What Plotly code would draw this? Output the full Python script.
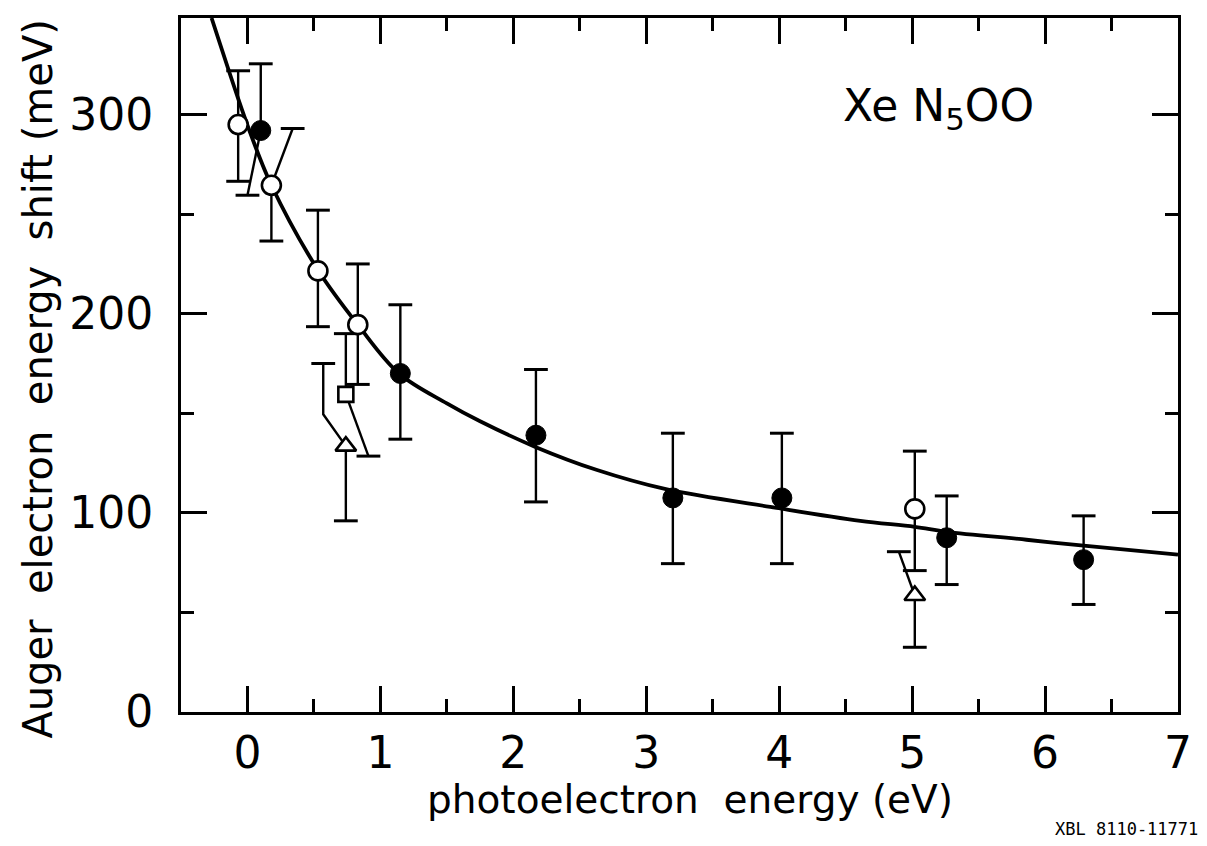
import plotly.graph_objects as go

# === 1. Data ===
# smooth curve through the data (photoelectron energy eV, shift meV)
curve_x = [-0.27, -0.08, 0.02, 0.18, 0.53, 0.83, 1.14, 1.50, 1.75, 2.17, 2.63,
           3.14, 3.98, 4.61, 5.02, 5.26, 5.86, 6.29, 7.00]
curve_y = [348.5, 310, 291, 264.5, 222, 194.5, 170, 155, 146, 133, 121.5,
           112, 102.5, 96, 93, 90.5, 86.5, 83.5, 79]

# open circles
open_x = [-0.07, 0.18, 0.53, 0.83, 5.02]
open_y = [295, 264.5, 221.5, 194.5, 102]
open_hi = [322, 293, 252, 225, 131]
open_lo = [266.5, 236.5, 193.5, 164.5, 71]
open_hi_cap_x = [-0.07, 0.34, 0.53, 0.83, 5.02]
open_lo_cap_x = [-0.07, 0.18, 0.53, 0.83, 5.02]

# filled circles
filled_x = [0.10, 1.15, 2.17, 3.20, 4.02, 5.26, 6.29]
filled_y = [292, 170, 139, 107.5, 107.5, 87.5, 76.5]
filled_hi = [325.5, 204.5, 172, 140, 140, 108.5, 98.5]
filled_lo = [259.5, 137, 105.5, 74.5, 74.5, 64, 54]
filled_hi_cap_x = [0.10, 1.15, 2.17, 3.20, 4.02, 5.26, 6.29]
filled_lo_cap_x = [0.00, 1.15, 2.17, 3.20, 4.02, 5.26, 6.29]

# open square
square_x = [0.74]
square_y = [159.5]
square_hi = [190]
square_lo = [128.5]
square_hi_cap_x = [0.74]
square_lo_cap_x = [0.91]

# open triangles (first upper bar is drawn with a bend)
tri_x = [0.74, 5.02]
tri_y = [133.5, 58.5]
tri_hi = [175, 80.5]
tri_lo = [96, 32.5]
tri_hi_cap_x = [0.57, 4.90]
tri_lo_cap_x = [0.74, 5.02]
tri_hi_knee_y = [149.5, None]


# === 2. Helpers for the hand-drafted (partly displaced) error bars ===
def bar_paths(x, y, hi, lo, hi_cx, lo_cx, knee=None):
    xs, ys, cx, cy = [], [], [], []
    for i in range(len(x)):
        # upper bar
        if knee is not None and knee[i] is not None:
            xs += [x[i], hi_cx[i], hi_cx[i], None]
            ys += [y[i], knee[i], hi[i], None]
        else:
            xs += [x[i], hi_cx[i], None]
            ys += [y[i], hi[i], None]
        # lower bar
        xs += [x[i], lo_cx[i], None]
        ys += [y[i], lo[i], None]
        cx += [hi_cx[i], lo_cx[i]]
        cy += [hi[i], lo[i]]
    return xs, ys, cx, cy


series = [
    (open_x, open_y, open_hi, open_lo, open_hi_cap_x, open_lo_cap_x, None),
    (filled_x, filled_y, filled_hi, filled_lo, filled_hi_cap_x, filled_lo_cap_x, None),
    (square_x, square_y, square_hi, square_lo, square_hi_cap_x, square_lo_cap_x, None),
    (tri_x, tri_y, tri_hi, tri_lo, tri_hi_cap_x, tri_lo_cap_x, tri_hi_knee_y),
]

# === 3. Plot ===
fig = go.Figure()

fig.add_trace(go.Scatter(x=curve_x, y=curve_y, mode='lines',
                         line=dict(color='black', width=3.8, shape='spline', smoothing=1.0)))

for s in series:
    bx, by, cx, cy = bar_paths(*s)
    fig.add_trace(go.Scatter(x=bx, y=by, mode='lines', line=dict(color='black', width=2.4)))
    fig.add_trace(go.Scatter(x=cx, y=cy, mode='markers',
                             marker=dict(symbol='line-ew', size=17, color='black',
                                         line=dict(color='black', width=3))))

fig.add_trace(go.Scatter(x=open_x, y=open_y, mode='markers',
                         marker=dict(symbol='circle', size=19, color='white',
                                     line=dict(color='black', width=2.6))))
fig.add_trace(go.Scatter(x=filled_x, y=filled_y, mode='markers',
                         marker=dict(symbol='circle', size=20, color='black',
                                     line=dict(color='black', width=1))))
fig.add_trace(go.Scatter(x=square_x, y=square_y, mode='markers',
                         marker=dict(symbol='square', size=15, color='white',
                                     line=dict(color='black', width=2.6))))
fig.add_trace(go.Scatter(x=tri_x, y=tri_y, mode='markers',
                         marker=dict(symbol='triangle-up', size=18, color='white',
                                     line=dict(color='black', width=2.6))))

font_main = "DejaVu Sans"

# labels
fig.add_annotation(x=5.2, y=303, xref='x', yref='y', showarrow=False,
                   text="Xe\u00a0N<sub>5</sub>OO", font=dict(family=font_main, size=44, color='black'))
fig.add_annotation(x=1.022, y=-0.169, xref='paper', yref='paper', showarrow=False,
                   xanchor='right', yanchor='middle', text="XBL 8110-11771",
                   font=dict(family="DejaVu Sans Mono", size=17, color='black'))
fig.add_annotation(x=0.5105, y=-0.126, xref='paper', yref='paper', showarrow=False,
                   xanchor='center', yanchor='middle',
                   text="photoelectron\u00a0\u00a0energy (eV)",
                   font=dict(family=font_main, size=39, color='black'))
fig.add_annotation(x=-0.1434, y=0.479, xref='paper', yref='paper', showarrow=False,
                   xanchor='center', yanchor='middle', textangle=-90,
                   text="Auger\u00a0\u00a0electron\u00a0\u00a0energy\u00a0\u00a0shift (meV)",
                   font=dict(family=font_main, size=40, color='black'))

axis_common = dict(
    showline=True, linecolor='black', linewidth=3, mirror='ticks',
    ticks='inside', ticklen=26, tickwidth=2.5, tickcolor='black',
    showgrid=False, zeroline=False,
    tickfont=dict(family=font_main, size=44, color='black'),
)

fig.update_xaxes(axis_common, range=[-0.5, 7], tickvals=[0, 1, 2, 3, 4, 5, 6, 7],
                 minor=dict(tickvals=[-0.5, 0.5, 1.5, 2.5, 3.5, 4.5, 5.5, 6.5],
                            ticks='inside', ticklen=13, tickwidth=2.5, tickcolor='black'))
fig.update_yaxes(axis_common, range=[0, 348.5], tickvals=[0, 100, 200, 300],
                 ticklabelstandoff=16,
                 minor=dict(tickvals=[50, 150, 250],
                            ticks='inside', ticklen=13, tickwidth=2.5, tickcolor='black'))

# the page body adds an 8 px offset, so the figure is a bit smaller than the window
fig.update_layout(
    width=1191, height=830,
    margin=dict(l=173, r=21, t=7, b=126),
    plot_bgcolor='white', paper_bgcolor='white',
    showlegend=False,
)

fig.write_html("out.html")
